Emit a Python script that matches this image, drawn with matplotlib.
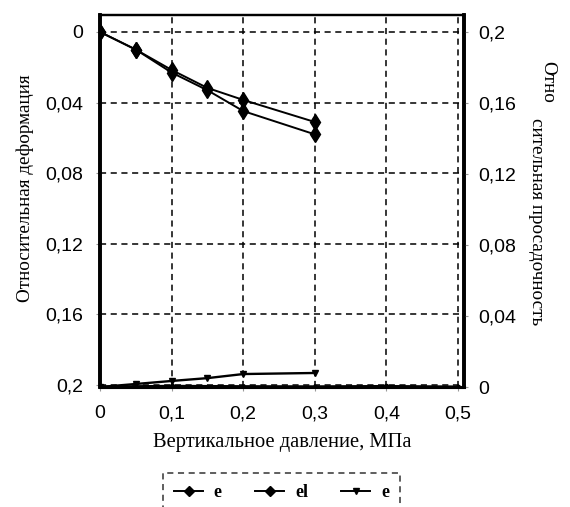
import matplotlib
matplotlib.use("Agg")
import matplotlib.pyplot as plt
from matplotlib.lines import Line2D

# Vertical pressure, MPa
pressure = [0, 0.05, 0.1, 0.15, 0.2, 0.3]
# Relative deformation (left axis, inverted)
e_defo = [0, 0.010, 0.0215, 0.0317, 0.0385, 0.051]
el_defo = [0, 0.010, 0.023, 0.033, 0.0448, 0.058]
# Relative subsidence (right axis)
e_subs = [0, 0.0017, 0.0034, 0.005, 0.0073, 0.0079]
base_p = [0, 0.1, 0.2, 0.3, 0.4, 0.5]
base_subs = [0, 0.0004, 0.0002, 0.0001, 0.0003, 0.0]

left_ticks = [0, 0.04, 0.08, 0.12, 0.16, 0.2]
left_labels = ["0", "0,04", "0,08", "0,12", "0,16", "0,2"]
right_ticks = [0, 0.04, 0.08, 0.12, 0.16, 0.2]
right_labels = ["0", "0,04", "0,08", "0,12", "0,16", "0,2"]
x_ticks = [0, 0.1, 0.2, 0.3, 0.4, 0.5]
x_labels = ["0", "0,1", "0,2", "0,3", "0,4", "0,5"]

W, H = 570, 507
fig = plt.figure(figsize=(W / 100, H / 100), dpi=100)
ax = fig.add_axes([100 / W, 1 - 387 / H, 364 / W, 372 / H])
ax2 = ax.twinx()

tick_font = dict(family="Liberation Sans", size=14)
serif = "Liberation Serif"

ax.plot(pressure, e_defo, color="black", lw=1.4, marker="d", ms=8.5, zorder=3)
ax.plot(pressure, el_defo, color="black", lw=1.4, marker="d", ms=8.5, zorder=3)
ax2.plot(pressure, e_subs, color="black", lw=1.7, marker="v", ms=5, zorder=3)
ax2.plot(base_p, base_subs, color="black", lw=2.2, marker="o", ms=3, zorder=3)

ax.set_xlim(0, 0.5084)
ax.set_ylim(0.2011, -0.0096)
ax2.set_ylim(0, 0.2096)

ax.set_xticks(x_ticks)
ax.set_xticklabels(x_labels, **tick_font)
ax.set_yticks(left_ticks)
ax.set_yticklabels(left_labels, **tick_font)
ax2.set_yticks(right_ticks)
ax2.set_yticklabels(right_labels, **tick_font)

ax.grid(True, color="black", linestyle=(0, (4, 3)), linewidth=1.1)
ax.tick_params(axis="y", length=3, color="#999999", pad=9)
ax.tick_params(axis="x", length=3, color="#999999", pad=10)
ax2.tick_params(axis="y", length=3, color="#999999", pad=7)

for side, w in (("left", 2.6), ("right", 2.6), ("bottom", 2.2), ("top", 1.6)):
    ax.spines[side].set_linewidth(w)
    ax2.spines[side].set_linewidth(w)

# Axis titles
fig.text(282 / W, 1 - 442 / H, "Вертикальное давление, МПа",
         ha="center", va="center", family=serif, size=14.8)
fig.text(25 / W, 1 - 188 / H, "Относительная деформация", rotation=90,
         ha="center", va="center", family=serif, size=13.8)
fig.text(548 / W, 1 - 82 / H, "Отно", rotation=270,
         ha="center", va="center", family=serif, size=13.8)
fig.text(537 / W, 1 - 222 / H, "сительная просадочность", rotation=270,
         ha="center", va="center", family=serif, size=13.8)

handles = [
    Line2D([], [], color="black", lw=1.4, marker="D", ms=5),
    Line2D([], [], color="black", lw=1.4, marker="D", ms=5),
    Line2D([], [], color="black", lw=1.4, marker="v", ms=5),
]
leg = fig.legend(handles, ["e", "el", "e"], loc="upper center",
                 bbox_to_anchor=(0.494, 1 - 464 / H), ncol=3,
                 prop=dict(family=serif, size=13, weight="bold"),
                 frameon=True, fancybox=False, handlelength=1.6,
                 handletextpad=0.6, columnspacing=1.85, borderpad=0.6)
frame = leg.get_frame()
frame.set_edgecolor("black")
frame.set_linestyle((0, (4, 3)))
frame.set_linewidth(1.1)

fig.savefig("out.png", dpi=100)
